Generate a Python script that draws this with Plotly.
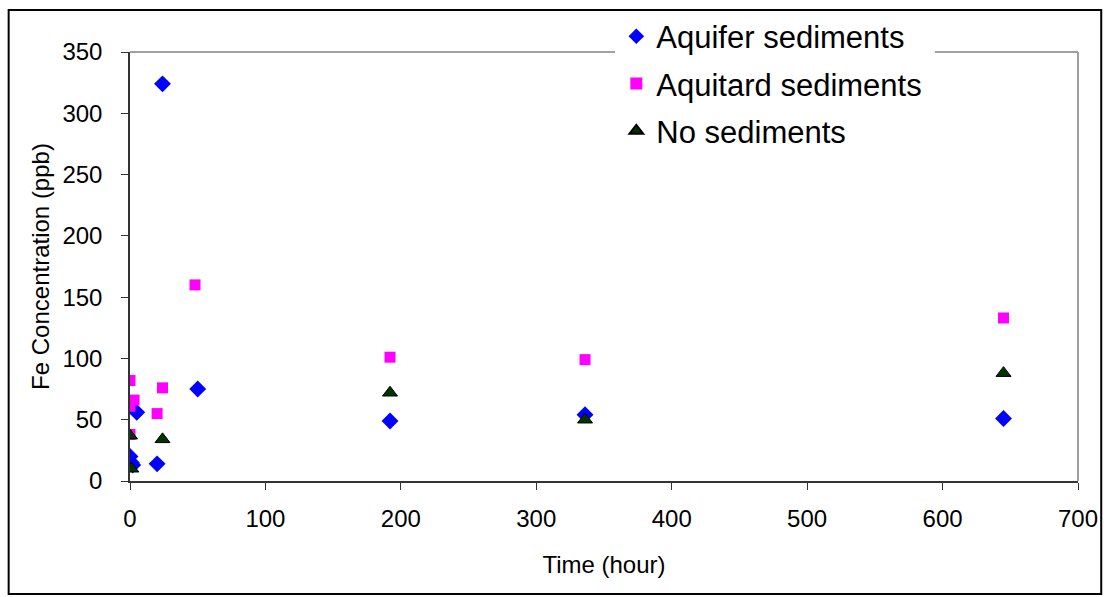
import plotly.graph_objects as go

aquifer_t = [0, 1, 2, 5, 20, 24, 50, 192, 336, 645]
aquifer_fe = [20, 15, 13, 56, 14, 324, 75, 49, 54, 51]

aquitard_t = [0, 0, 3, 0, 20, 24, 48, 192, 336, 645]
aquitard_fe = [82, 61, 66, 38, 55, 76, 160, 101, 99, 133]

nosed_t = [0, 1, 24, 192, 336, 645]
nosed_fe = [37, 10, 34, 72, 50, 88]

x_ticks = [0, 100, 200, 300, 400, 500, 600, 700]
y_ticks = [0, 50, 100, 150, 200, 250, 300, 350]

FONT = "Liberation Sans, Arial, sans-serif"

fig = go.Figure()
fig.add_trace(go.Scatter(
    x=aquifer_t, y=aquifer_fe, mode="markers", name="Aquifer sediments",
    legendgroup="a",
    marker=dict(symbol="diamond", size=13, color="#0000FF", line=dict(width=0))))
fig.add_trace(go.Scatter(
    x=aquitard_t, y=aquitard_fe, mode="markers", name="Aquitard sediments",
    legendgroup="b",
    marker=dict(symbol="square", size=11, color="#FF00FF", line=dict(width=0))))
fig.add_trace(go.Scatter(
    x=nosed_t, y=nosed_fe, mode="markers", name="No sediments",
    legendgroup="c",
    marker=dict(symbol="triangle-up", size=13, color="#003300",
                line=dict(width=1, color="#000000"))))

fig.update_layout(
    width=1106, height=597,
    margin=dict(l=130, r=28, t=52, b=116, autoexpand=False),
    paper_bgcolor="white", plot_bgcolor="white",
    font=dict(family=FONT, size=24, color="black"),
    showlegend=True,
    legend=dict(
        x=0.513, y=1.099, xanchor="left", yanchor="top",
        bgcolor="rgba(0,0,0,0)", borderwidth=0,
        font=dict(size=31, family=FONT),
        tracegroupgap=4, itemsizing="constant",
    ),
    xaxis=dict(
        range=[0, 700], tickvals=x_ticks, ticks="outside", ticklen=7,
        tickcolor="#333333", showline=True, linecolor="#333333", linewidth=1.5,
        showgrid=False, zeroline=False, ticklabelstandoff=8,
        title=dict(text="Time (hour)", standoff=26, font=dict(size=24)),
        tickfont=dict(size=24),
    ),
    yaxis=dict(
        range=[0, 350], tickvals=y_ticks, ticks="outside", ticklen=7,
        tickcolor="#333333", showline=True, linecolor="#333333", linewidth=1.5,
        showgrid=False, zeroline=False, ticklabelstandoff=14,
        title=dict(text="Fe Concentration (ppb)", standoff=6, font=dict(size=24)),
        tickfont=dict(size=24),
    ),
    shapes=[
        dict(type="line", xref="paper", yref="paper", x0=0, x1=1, y0=1, y1=1,
             line=dict(color="#A0A0A0", width=2), layer="below"),
        dict(type="line", xref="paper", yref="paper", x0=1, x1=1, y0=0, y1=1,
             line=dict(color="#A0A0A0", width=2), layer="below"),
        dict(type="rect", xref="paper", yref="paper",
             x0=0.5116, x1=0.849, y0=0.985, y1=1.08,
             fillcolor="white", line=dict(width=0), layer="above"),
        dict(type="rect", xref="paper", yref="paper",
             x0=-0.128, x1=1.0245, y0=-0.2634, y1=1.098,
             line=dict(color="black", width=2), layer="above"),
    ],
)

fig.write_html("out.html")
